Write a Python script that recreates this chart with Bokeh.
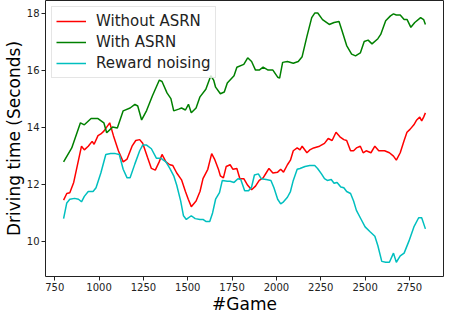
from bokeh.plotting import figure
from bokeh.models import Range1d, FixedTicker, Legend, LegendItem
from bokeh.embed import file_html
from bokeh.resources import INLINE

# ---- data ----
games_without = [800, 818, 835, 857, 884, 901, 917, 939, 961, 972, 994, 1010, 1027, 1060, 1081, 1109,
                 1136, 1158, 1186, 1207, 1229, 1246, 1273, 1295, 1317, 1339, 1355, 1377, 1399, 1416,
                 1438, 1465, 1487, 1503, 1520, 1547, 1569, 1586, 1613, 1635, 1651, 1673, 1684, 1701,
                 1717, 1739, 1755, 1777, 1794, 1816, 1838, 1860, 1882, 1903, 1925, 1942, 1958, 1980,
                 2007, 2024, 2040, 2062, 2079, 2095, 2117, 2133, 2145, 2172, 2188, 2210, 2243, 2271,
                 2292, 2314, 2336, 2358, 2380, 2396, 2418, 2435, 2451, 2473, 2489, 2506, 2533, 2555,
                 2577, 2610, 2637, 2660, 2676, 2698, 2720, 2736, 2753, 2775, 2791, 2808, 2819, 2830, 2840]
time_without = [11.44, 11.67, 11.70, 12.06, 12.84, 13.33, 13.20, 13.33, 13.50, 13.40, 13.70, 13.76,
                13.86, 14.15, 13.70, 13.17, 12.78, 12.88, 13.33, 13.53, 13.56, 13.43, 12.94, 12.55,
                12.49, 12.78, 13.04, 12.78, 12.68, 12.65, 12.39, 12.15, 11.74, 11.47, 11.21, 11.41,
                11.74, 12.19, 12.52, 13.07, 12.88, 12.52, 12.29, 12.22, 12.62, 12.68, 12.52, 12.55,
                12.19, 12.19, 11.96, 11.80, 11.93, 12.13, 12.22, 12.39, 12.55, 12.39, 12.42, 12.52,
                12.42, 12.68, 12.84, 13.17, 13.27, 13.20, 13.33, 13.10, 13.20, 13.27, 13.33, 13.43,
                13.60, 13.53, 13.82, 13.66, 13.56, 13.53, 13.17, 13.17, 13.27, 13.33, 13.10, 13.17,
                13.10, 13.33, 13.17, 13.17, 13.10, 12.98, 12.84, 13.10, 13.53, 13.82, 13.92, 14.08,
                14.25, 14.35, 14.22, 14.35, 14.50]

games_with = [800, 846, 895, 917, 955, 994, 1027, 1043, 1076, 1103, 1136, 1175, 1202, 1218, 1240,
              1268, 1301, 1340, 1355, 1383, 1405, 1421, 1449, 1465, 1487, 1504, 1520, 1547, 1569,
              1602, 1630, 1646, 1657, 1684, 1706, 1723, 1761, 1777, 1816, 1838, 1860, 1882, 1903,
              1925, 1953, 1980, 2007, 2018, 2035, 2062, 2095, 2123, 2145, 2172, 2199, 2216, 2233,
              2260, 2298, 2325, 2353, 2369, 2396, 2424, 2446, 2473, 2495, 2517, 2539, 2572, 2588,
              2616, 2643, 2660, 2676, 2698, 2720, 2737, 2758, 2780, 2813, 2830, 2840]
time_with = [12.78, 13.27, 14.15, 14.08, 14.30, 14.30, 14.15, 13.80, 14.00, 13.97, 14.57, 14.67,
             14.80, 14.74, 14.25, 14.58, 15.10, 15.65, 15.60, 15.20, 15.00, 14.57, 14.63, 14.67,
             14.60, 14.80, 14.50, 14.67, 15.06, 15.33, 15.80, 15.65, 15.40, 15.17, 15.23, 15.55,
             15.80, 16.10, 16.20, 16.43, 16.30, 16.00, 16.00, 16.10, 16.00, 16.00, 15.75, 15.72,
             16.27, 16.30, 16.24, 16.30, 16.47, 17.18, 17.84, 18.00, 18.00, 17.77, 17.60, 17.67,
             17.70, 17.40, 16.86, 16.56, 16.50, 16.60, 17.00, 17.05, 16.92, 17.10, 17.25, 17.73,
             17.90, 17.97, 17.93, 17.93, 17.77, 17.77, 17.50, 17.67, 17.84, 17.77, 17.60]

games_noise = [800, 818, 835, 862, 884, 901, 917, 939, 966, 983, 1010, 1038, 1065, 1092, 1114, 1136,
               1158, 1175, 1202, 1229, 1246, 1268, 1295, 1323, 1345, 1355, 1377, 1399, 1421, 1438,
               1460, 1476, 1492, 1520, 1542, 1569, 1586, 1602, 1624, 1640, 1657, 1679, 1695, 1723,
               1739, 1761, 1783, 1799, 1821, 1843, 1860, 1876, 1898, 1914, 1942, 1969, 1986, 2007,
               2024, 2040, 2062, 2079, 2095, 2117, 2133, 2161, 2188, 2216, 2232, 2254, 2271, 2287,
               2309, 2325, 2342, 2363, 2380, 2396, 2418, 2435, 2451, 2478, 2500, 2528, 2555, 2572,
               2594, 2616, 2637, 2660, 2676, 2698, 2720, 2747, 2775, 2802, 2819, 2840]
time_noise = [10.79, 11.34, 11.47, 11.50, 11.47, 11.38, 11.57, 11.74, 11.74, 11.87, 12.39, 13.04,
              13.07, 13.07, 13.04, 12.52, 12.22, 12.22, 12.71, 13.17, 13.37, 13.37, 13.24, 12.91,
              12.91, 12.88, 12.78, 12.55, 12.29, 11.96, 11.41, 10.89, 10.76, 10.89, 10.79, 10.76,
              10.76, 10.69, 10.69, 10.99, 11.47, 11.70, 12.13, 12.10, 12.10, 12.06, 12.19, 12.16,
              11.77, 11.77, 11.90, 12.32, 12.36, 12.19, 12.16, 12.13, 11.87, 11.47, 11.31, 11.38,
              11.54, 11.74, 12.13, 12.52, 12.55, 12.62, 12.65, 12.65, 12.55, 12.36, 12.19, 12.13,
              12.16, 12.03, 12.06, 11.90, 11.87, 11.74, 11.67, 11.41, 11.08, 10.76, 10.50, 10.33,
              10.17, 9.84, 9.29, 9.26, 9.26, 9.58, 9.26, 9.48, 9.58, 10.00, 10.50, 10.82, 10.82, 10.43]

series_names = ["Without ASRN", "With ASRN", "Reward noising"]
x_ticks = [750, 1000, 1250, 1500, 1750, 2000, 2250, 2500, 2750]
y_ticks = [10, 12, 14, 16, 18]

FONT = "DejaVu Sans"

p = figure(width=444, height=316, output_backend="svg", toolbar_location=None,
           x_range=Range1d(698, 2942), y_range=Range1d(8.76, 18.44),
           min_border_left=0, min_border_right=1, min_border_top=0, min_border_bottom=0)
p.background_fill_color = "white"
p.border_fill_color = "white"
p.outline_line_color = "#222222"
p.outline_line_width = 1
p.xgrid.visible = False
p.ygrid.visible = False

for ax in (p.xaxis[0], p.yaxis[0]):
    ax.axis_line_color = None
    ax.major_tick_line_color = "#222222"
    ax.major_tick_in = 0
    ax.major_tick_out = 4
    ax.minor_tick_line_color = None
    ax.major_label_text_font = FONT
    ax.major_label_text_font_size = "10px"
    ax.major_label_text_color = "#222222"
    ax.major_label_text_line_height = 1.0
    ax.major_label_standoff = 2
    ax.axis_label_text_font = FONT
    ax.axis_label_text_font_size = "17px"
    ax.axis_label_text_font_style = "normal"
    ax.axis_label_text_color = "black"
    ax.axis_label_text_line_height = 0.9
    ax.axis_label_standoff = 0

p.xaxis[0].ticker = FixedTicker(ticks=x_ticks)
p.yaxis[0].ticker = FixedTicker(ticks=y_ticks)
p.xaxis[0].axis_label = "#Game"
p.yaxis[0].axis_label = "Driving time (Seconds)"

r1 = p.line(games_without, time_without, line_color="#ff0000", line_width=1.5)
r2 = p.line(games_with, time_with, line_color="#008000", line_width=1.5)
r3 = p.line(games_noise, time_noise, line_color="#00bfbf", line_width=1.5)

legend = Legend(items=[LegendItem(label=series_names[0], renderers=[r1]),
                       LegendItem(label=series_names[1], renderers=[r2]),
                       LegendItem(label=series_names[2], renderers=[r3])],
                location="top_left")
legend.label_text_font = FONT
legend.label_text_font_size = "15px"
legend.label_text_color = "#222222"
legend.glyph_width = 30
legend.glyph_height = 20
legend.label_height = 20
legend.label_standoff = 10
legend.spacing = 1
legend.padding = 4
legend.margin = 6
legend.border_line_color = "#cccccc"
legend.border_line_width = 1
legend.background_fill_alpha = 0.8
p.add_layout(legend)

open("out.html", "w").write(file_html(p, INLINE))
